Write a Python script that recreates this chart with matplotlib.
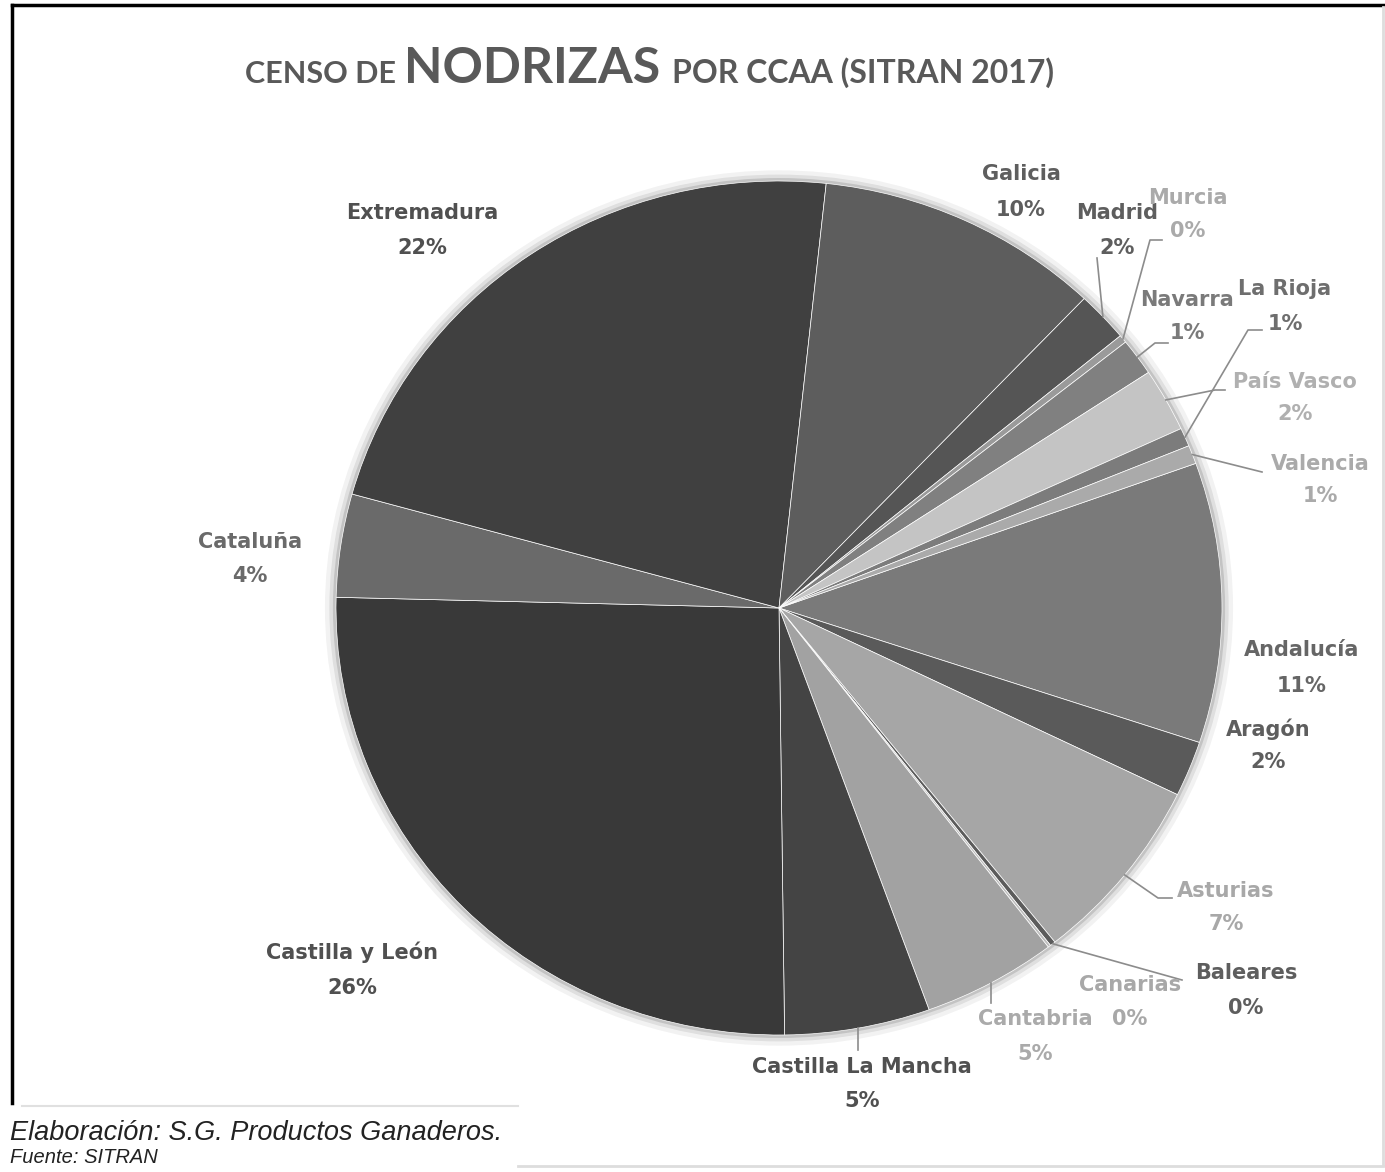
import numpy as np
import matplotlib.pyplot as plt
from matplotlib.patches import Ellipse

# Censo de nodrizas por CCAA (SITRAN 2017), % del total
regiones = ['Andalucía', 'Aragón', 'Asturias', 'Baleares', 'Canarias', 'Cantabria',
            'Castilla La Mancha', 'Castilla y León', 'Cataluña', 'Extremadura',
            'Galicia', 'Madrid', 'Murcia', 'Navarra', 'País Vasco', 'La Rioja', 'Valencia']
porcentaje = [10.6, 2.1, 7.1, 0.2, 0.1, 4.9, 5.3, 25.6, 3.9, 22.4,
              10.4, 1.9, 0.3, 1.4, 2.4, 0.7, 0.7]

colores = ['#7a7a7a', '#5a5a5a', '#a6a6a6', '#5c5c5c', '#bdbdbd', '#a2a2a2',
           '#444444', '#393939', '#6a6a6a', '#404040',
           '#5d5d5d', '#555555', '#9a9a9a', '#808080', '#c4c4c4', '#7c7c7c', '#aaaaaa']
color_texto = ['#666666', '#5e5e5e', '#a8a8a8', '#5e5e5e', '#a8a8a8', '#aaaaaa',
               '#505050', '#505050', '#6a6a6a', '#505050',
               '#5e5e5e', '#5e5e5e', '#aaaaaa', '#7a7a7a', '#b0b0b0', '#6e6e6e', '#aaaaaa']

# posicion de etiquetas en pixeles de la imagen: (x centro, y nombre, y porcentaje)
pos_etiqueta = {
    'Extremadura': (422, 213, 248), 'Galicia': (1021, 174, 210), 'Madrid': (1117, 213, 248),
    'Murcia': (1188, 198, 231), 'Navarra': (1187, 300, 333), 'La Rioja': (1285, 289, 324),
    'País Vasco': (1295, 382, 414), 'Valencia': (1320, 464, 496), 'Andalucía': (1302, 650, 686),
    'Aragón': (1268, 729, 762), 'Asturias': (1226, 891, 924), 'Baleares': (1246, 973, 1008),
    'Canarias': (1130, 985, 1019), 'Cantabria': (1035, 1019, 1054),
    'Castilla La Mancha': (862, 1067, 1101), 'Castilla y León': (352, 952, 988),
    'Cataluña': (250, 542, 576),
}
# lineas guia: puntos intermedios (pixeles) desde el borde del sector
guias = {
    'Madrid': [(1097, 258)],
    'Murcia': [(1150, 240), (1162, 240)],
    'Navarra': [(1155, 343), (1168, 343)],
    'País Vasco': [(1215, 390), (1225, 390)],
    'La Rioja': [(1248, 330), (1262, 330)],
    'Valencia': [(1262, 472)],
    'Asturias': [(1158, 898), (1172, 898)],
    'Baleares': [(1182, 980)],
    'Cantabria': [(None, 1003)],
    'Castilla La Mancha': [(None, 1050)],
}

W, H = 1385, 1172
cx, cy, rx, ry = 779, 608, 443, 427


def px(x, y):
    return (x - cx) / rx, (cy - y) / ry


fig = plt.figure(figsize=(W / 100, H / 100), dpi=100)
ax = fig.add_axes([0, 0, 1, 1])

# sombra suave
for k, a in [(1.025, 0.05), (1.015, 0.08), (1.007, 0.12)]:
    ax.add_patch(Ellipse((0, 0), 2 * k, 2 * k, color='#000000', alpha=a, lw=0, zorder=0))

wedges, _ = ax.pie(porcentaje, colors=colores, startangle=19.8, counterclock=False,
                   radius=1.0, wedgeprops=dict(edgecolor='#ffffff', linewidth=0.5, zorder=1))
ax.set_aspect('auto')
ax.set_xlim(-cx / rx, (W - cx) / rx)
ax.set_ylim(-(H - cy) / ry, cy / ry)
ax.axis('off')

fuente = ['DejaVu Sans']
for w, reg, col in zip(wedges, regiones, color_texto):
    x, yn, yp = pos_etiqueta[reg]
    pct = '%d%%' % round(100 * (w.theta2 - w.theta1) / 360)
    ax.text(*px(x, yn), reg, ha='center', va='center', fontsize=15,
            fontweight='bold', color=col, family=fuente, zorder=5)
    ax.text(*px(x, yp), pct, ha='center', va='center', fontsize=15,
            fontweight='bold', color=col, family=fuente, zorder=5)
    if reg in guias:
        ang = np.deg2rad((w.theta1 + w.theta2) / 2)
        xs, ys = [np.cos(ang)], [np.sin(ang)]
        for gx, gy in guias[reg]:
            if gx is None:
                gx = cx + rx * np.cos(ang)
            qx, qy = px(gx, gy)
            xs.append(qx)
            ys.append(qy)
        ax.plot(xs, ys, color='#8c8c8c', lw=1.2, zorder=4)

# titulo
tit = dict(color='#595959', fontweight='bold', family=['Lato', 'DejaVu Sans'], va='baseline')
fig.text(245 / W, 1 - 83 / H, 'CENSO DE', fontsize=22, **tit)
fig.text(404 / W, 1 - 83 / H, 'NODRIZAS', fontsize=36, **tit)
fig.text(672 / W, 1 - 83 / H, 'POR CCAA (SITRAN 2017)', fontsize=23, **tit)

# marco
fig.add_artist(plt.Line2D([12 / W, 1383 / W], [1 - 5 / H, 1 - 5 / H], color='black', lw=2.5))
fig.add_artist(plt.Line2D([12 / W, 12 / W], [1 - 5 / H, 1 - 1103 / H], color='black', lw=2.5))
fig.add_artist(plt.Line2D([1383 / W, 1383 / W], [1 - 7 / H, 1 - 1165 / H], color='#dddddd', lw=2))
fig.add_artist(plt.Line2D([22 / W, 518 / W], [1 - 1106 / H, 1 - 1106 / H], color='#e0e0e0', lw=1.5))
fig.add_artist(plt.Line2D([518 / W, 1383 / W], [1 - 1166 / H, 1 - 1166 / H], color='#dddddd', lw=2))

pie_txt = dict(color='#222222', style='italic', family=['Liberation Sans Narrow', 'Liberation Sans'],
               va='baseline', ha='left')
fig.text(10 / W, 1 - 1140 / H, 'Elaboración: S.G. Productos Ganaderos.', fontsize=19.5, **pie_txt)
fig.text(10 / W, 1 - 1163 / H, 'Fuente: SITRAN', fontsize=14.5, **pie_txt)

fig.savefig('out.png', dpi=100, facecolor='white')
